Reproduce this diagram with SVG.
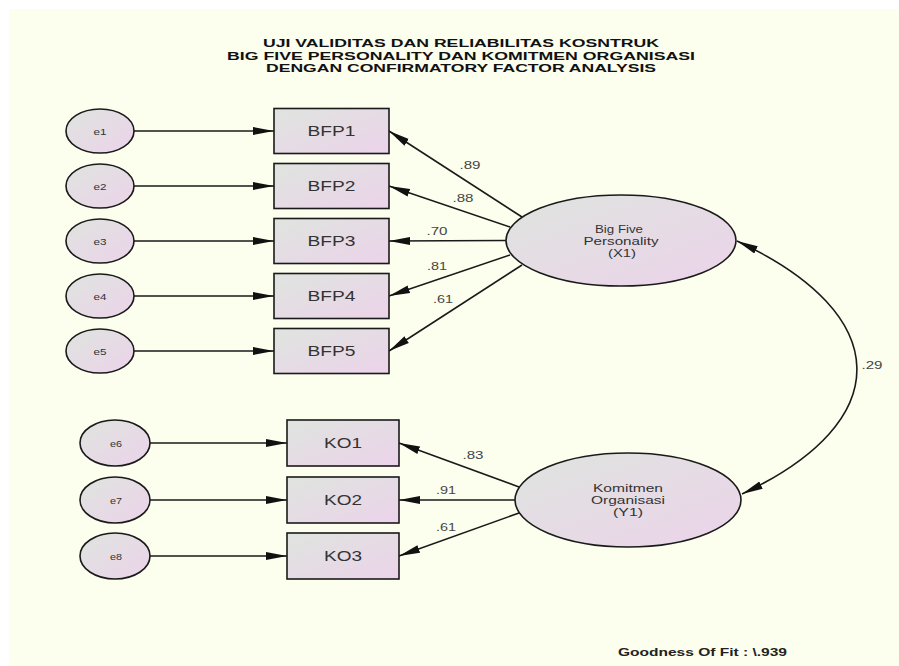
<svg xmlns="http://www.w3.org/2000/svg" width="899" height="666" viewBox="0 0 899 666">
<defs>
<linearGradient id="fillg" x1="0" y1="0" x2="1" y2="1">
<stop offset="0" stop-color="#dfe4df"/>
<stop offset="1" stop-color="#ecd3ea"/>
</linearGradient>
<marker id="arr" markerUnits="userSpaceOnUse" markerWidth="22" markerHeight="10" refX="21" refY="5" orient="auto-start-reverse" viewBox="0 0 22 10">
<path d="M0,1 L21,5 L0,9 z" fill="#111"/>
</marker>
<style>
.sh{fill:url(#fillg);stroke:#1a1a1a;stroke-width:1.6}
.cn{stroke:#1a1a1a;stroke-width:1.6;fill:none;marker-end:url(#arr)}
.lbl{font-family:"Liberation Sans",Arial,sans-serif;fill:#333;text-anchor:middle}
.box{font-size:14px}
.err{font-size:9px}
.lat{font-size:11px}
.cf{font-family:"Liberation Sans",Arial,sans-serif;font-size:11px;fill:#444;text-anchor:middle}
.tt{font-family:"Liberation Sans",Arial,sans-serif;font-size:11.5px;font-weight:bold;fill:#111;text-anchor:middle}
</style>
</defs>
<rect x="0" y="0" width="899" height="666" fill="#ffffff"/>
<rect x="9" y="9" width="890" height="657" fill="#fcfeee"/>

<g id="title">
<text class="tt" x="461" y="47" textLength="396" lengthAdjust="spacingAndGlyphs">UJI VALIDITAS DAN RELIABILITAS KOSNTRUK</text>
<text class="tt" x="461" y="59.5" textLength="468" lengthAdjust="spacingAndGlyphs">BIG FIVE PERSONALITY DAN KOMITMEN ORGANISASI</text>
<text class="tt" x="461" y="72" textLength="390" lengthAdjust="spacingAndGlyphs">DENGAN CONFIRMATORY FACTOR ANALYSIS</text>
</g>

<g id="connectors">
<line class="cn" x1="134" y1="131" x2="274" y2="131"/>
<line class="cn" x1="134" y1="186" x2="274" y2="186"/>
<line class="cn" x1="134" y1="241" x2="274" y2="241"/>
<line class="cn" x1="134" y1="296" x2="274" y2="296"/>
<line class="cn" x1="134" y1="351" x2="274" y2="351"/>
<line class="cn" x1="150" y1="443" x2="287" y2="443"/>
<line class="cn" x1="150" y1="500" x2="287" y2="500"/>
<line class="cn" x1="150" y1="556" x2="287" y2="556"/>
<line class="cn" x1="522" y1="217" x2="389" y2="131"/>
<line class="cn" x1="510" y1="227" x2="389" y2="186"/>
<line class="cn" x1="506" y1="240.5" x2="389" y2="241"/>
<line class="cn" x1="510" y1="255" x2="389" y2="296"/>
<line class="cn" x1="522" y1="265" x2="389" y2="351"/>
<line class="cn" x1="519" y1="487" x2="399" y2="443"/>
<line class="cn" x1="515" y1="500" x2="399" y2="500"/>
<line class="cn" x1="519" y1="513" x2="399" y2="556"/>
<path class="cn" style="marker-start:url(#arr)" d="M737,241 C894,314 898,421 742,494"/>
<text class="cf" x="470" y="169" textLength="21" lengthAdjust="spacingAndGlyphs">.89</text>
<text class="cf" x="463" y="202" textLength="21" lengthAdjust="spacingAndGlyphs">.88</text>
<text class="cf" x="437" y="235" textLength="21" lengthAdjust="spacingAndGlyphs">.70</text>
<text class="cf" x="437" y="270" textLength="20" lengthAdjust="spacingAndGlyphs">.81</text>
<text class="cf" x="443" y="303" textLength="20" lengthAdjust="spacingAndGlyphs">.61</text>
<text class="cf" x="473" y="459" textLength="21" lengthAdjust="spacingAndGlyphs">.83</text>
<text class="cf" x="446" y="494" textLength="20" lengthAdjust="spacingAndGlyphs">.91</text>
<text class="cf" x="446" y="531" textLength="20" lengthAdjust="spacingAndGlyphs">.61</text>
<text class="cf" x="872" y="369" textLength="21" lengthAdjust="spacingAndGlyphs">.29</text>
</g>

<g id="e1"><ellipse class="sh" cx="100" cy="131" rx="34" ry="22"/><text class="lbl err" x="100" y="135" textLength="13" lengthAdjust="spacingAndGlyphs">e1</text></g>
<g id="e2"><ellipse class="sh" cx="100" cy="186" rx="34" ry="22"/><text class="lbl err" x="100" y="190" textLength="13" lengthAdjust="spacingAndGlyphs">e2</text></g>
<g id="e3"><ellipse class="sh" cx="100" cy="241" rx="34" ry="22"/><text class="lbl err" x="100" y="245" textLength="13" lengthAdjust="spacingAndGlyphs">e3</text></g>
<g id="e4"><ellipse class="sh" cx="100" cy="296" rx="34" ry="22"/><text class="lbl err" x="100" y="300" textLength="13" lengthAdjust="spacingAndGlyphs">e4</text></g>
<g id="e5"><ellipse class="sh" cx="100" cy="351" rx="34" ry="22"/><text class="lbl err" x="100" y="355" textLength="13" lengthAdjust="spacingAndGlyphs">e5</text></g>
<g id="e6"><ellipse class="sh" cx="115" cy="443" rx="35" ry="23"/><text class="lbl err" x="116" y="447" textLength="12" lengthAdjust="spacingAndGlyphs">e6</text></g>
<g id="e7"><ellipse class="sh" cx="115" cy="500" rx="35" ry="23"/><text class="lbl err" x="116" y="504" textLength="12" lengthAdjust="spacingAndGlyphs">e7</text></g>
<g id="e8"><ellipse class="sh" cx="115" cy="556" rx="35" ry="23"/><text class="lbl err" x="116" y="560" textLength="12" lengthAdjust="spacingAndGlyphs">e8</text></g>

<g id="BFP1"><rect class="sh" x="274" y="108.5" width="115" height="45"/><text class="lbl box" x="331.5" y="136" textLength="48" lengthAdjust="spacingAndGlyphs">BFP1</text></g>
<g id="BFP2"><rect class="sh" x="274" y="163.5" width="115" height="45"/><text class="lbl box" x="331.5" y="191" textLength="48" lengthAdjust="spacingAndGlyphs">BFP2</text></g>
<g id="BFP3"><rect class="sh" x="274" y="218.5" width="115" height="45"/><text class="lbl box" x="331.5" y="246" textLength="48" lengthAdjust="spacingAndGlyphs">BFP3</text></g>
<g id="BFP4"><rect class="sh" x="274" y="273.5" width="115" height="45"/><text class="lbl box" x="331.5" y="301" textLength="48" lengthAdjust="spacingAndGlyphs">BFP4</text></g>
<g id="BFP5"><rect class="sh" x="274" y="328.5" width="115" height="45"/><text class="lbl box" x="331.5" y="356" textLength="48" lengthAdjust="spacingAndGlyphs">BFP5</text></g>

<g id="KO1"><rect class="sh" x="287" y="420" width="112" height="46"/><text class="lbl box" x="343" y="448" textLength="38" lengthAdjust="spacingAndGlyphs">KO1</text></g>
<g id="KO2"><rect class="sh" x="287" y="477" width="112" height="46"/><text class="lbl box" x="343" y="505" textLength="38" lengthAdjust="spacingAndGlyphs">KO2</text></g>
<g id="KO3"><rect class="sh" x="287" y="533" width="112" height="46"/><text class="lbl box" x="343" y="561" textLength="38" lengthAdjust="spacingAndGlyphs">KO3</text></g>

<g id="X1"><ellipse class="sh" cx="621" cy="240.5" rx="115" ry="45.5"/>
<text class="lbl lat" x="619" y="233" textLength="48" lengthAdjust="spacingAndGlyphs">Big Five</text>
<text class="lbl lat" x="621" y="245" textLength="75" lengthAdjust="spacingAndGlyphs">Personality</text>
<text class="lbl lat" x="622" y="257" textLength="28" lengthAdjust="spacingAndGlyphs">(X1)</text></g>

<g id="Y1"><ellipse class="sh" cx="628" cy="500" rx="113" ry="47"/>
<text class="lbl lat" x="628" y="492" textLength="70" lengthAdjust="spacingAndGlyphs">Komitmen</text>
<text class="lbl lat" x="628" y="504" textLength="74" lengthAdjust="spacingAndGlyphs">Organisasi</text>
<text class="lbl lat" x="628" y="516" textLength="30" lengthAdjust="spacingAndGlyphs">(Y1)</text></g>

<g id="fit"><text x="618" y="656" font-family="'Liberation Sans',Arial,sans-serif" font-size="11.5" font-weight="bold" fill="#222" textLength="169" lengthAdjust="spacingAndGlyphs">Goodness Of Fit : \.939</text></g>
</svg>
